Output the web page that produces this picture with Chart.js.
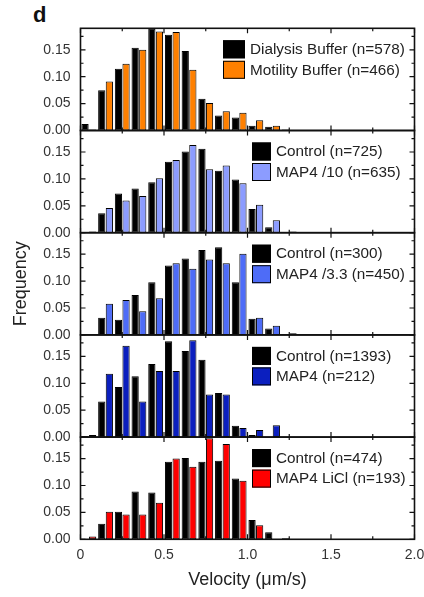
<!DOCTYPE html>
<html>
<head>
<meta charset="utf-8">
<script src="https://cdn.jsdelivr.net/npm/chart.js@4.4.1/dist/chart.umd.min.js"></script>
<style>
  html, body { margin: 0; padding: 0; background: #fff; }
  #fig { position: relative; width: 424px; height: 597px; overflow: hidden; }
  #fig canvas { position: absolute; left: 0; }
  #tag { position: absolute; left: 33px; top: 2px; font: bold 22px "Liberation Sans", Arial, sans-serif; color: #111; }
</style>
</head>
<body>
<div id="fig"><div id="tag">d</div></div>
<script>
// bins of 0.1 um/s, centres
const binCenters = [0.05, 0.15, 0.25, 0.35, 0.45, 0.55, 0.65, 0.75, 0.85, 0.95, 1.05, 1.15, 1.25];
const xTickValues = [0, 0.5, 1.0, 1.5, 2.0];
const yTickValues = [0, 0.05, 0.10, 0.15];

// panel 1
const dialysisBuffer = [0.012, 0.075, 0.115, 0.154, 0.189, 0.178, 0.148, 0.059, 0.028, 0.024, 0.009, 0.007, 0.002];
const motilityBuffer = [0.002, 0.091, 0.124, 0.150, 0.184, 0.183, 0.113, 0.051, 0.036, 0.033, 0.019, 0.009, 0];
// panel 2
const control725 = [0, 0.036, 0.073, 0.082, 0.094, 0.132, 0.151, 0.156, 0.115, 0.099, 0.044, 0.010, 0.001];
const map4Div10 = [0.002, 0.046, 0.060, 0.068, 0.101, 0.135, 0.163, 0.118, 0.125, 0.092, 0.052, 0.023, 0.002];
// panel 3
const control300 = [0.001, 0.032, 0.028, 0.074, 0.098, 0.129, 0.142, 0.158, 0.163, 0.098, 0.030, 0.012, 0];
const map4Div33 = [0, 0.058, 0.065, 0.044, 0.068, 0.133, 0.123, 0.140, 0.133, 0.151, 0.032, 0.017, 0.003];
// panel 4
const control1393 = [0.002, 0.066, 0.093, 0.113, 0.136, 0.178, 0.160, 0.144, 0.082, 0.021, 0.004, 0, 0];
const map4 = [0.004, 0.118, 0.170, 0.066, 0.123, 0.123, 0.180, 0.079, 0.079, 0.017, 0.013, 0.022, 0];
// panel 5
const control474 = [0, 0.029, 0.051, 0.089, 0.087, 0.144, 0.151, 0.144, 0.146, 0.113, 0.036, 0.013, 0.002];
const map4LiCl = [0.005, 0.051, 0.046, 0.046, 0.068, 0.150, 0.135, 0.188, 0.177, 0.109, 0.026, 0, 0];

const panels = [
  { labels: ['Dialysis Buffer (n=578)', 'Motility Buffer (n=466)'], series: [dialysisBuffer, motilityBuffer], color: '#ff8000', legendX: 223, boxW: 22 },
  { labels: ['Control (n=725)', 'MAP4 /10 (n=635)'], series: [control725, map4Div10], color: '#8c9cff', legendX: 252, boxW: 19 },
  { labels: ['Control (n=300)', 'MAP4 /3.3 (n=450)'], series: [control300, map4Div33], color: '#4e6cf7', legendX: 252, boxW: 19 },
  { labels: ['Control (n=1393)', 'MAP4 (n=212)'], series: [control1393, map4], color: '#0b1fbf', legendX: 252, boxW: 19 },
  { labels: ['Control (n=474)', 'MAP4 LiCl (n=193)'], series: [control474, map4LiCl], color: '#ff0000', legendX: 252, boxW: 19 }
];

const FONT = '"Liberation Sans", Arial, sans-serif';
const W = 424, H = 597;
const plotLeft = 80.5, plotRight = 414.5, plotTop = 28.3, panelH = 102.2;
const margin = 22; // canvas overhang above/below each panel so tick labels fit

// frame with inward ticks on all four sides
const framePlugin = {
  id: 'frame',
  afterDatasetsDraw(chart) {
    const {ctx, chartArea: a, scales} = chart;
    const xs = scales.x, ys = scales.y;
    ctx.save();
    ctx.strokeStyle = '#111';
    ctx.lineWidth = 1.2;
    ctx.beginPath();
    for (let v = 0; v <= 0.19; v += 0.025) {
      const y = ys.getPixelForValue(v);
      const len = Math.abs(v / 0.05 - Math.round(v / 0.05)) < 1e-6 ? 5 : 3;
      ctx.moveTo(a.left, y); ctx.lineTo(a.left + len, y);
      ctx.moveTo(a.right, y); ctx.lineTo(a.right - len, y);
    }
    for (let v = 0; v <= 2.0001; v += 0.25) {
      const x = xs.getPixelForValue(v);
      const len = Math.abs(v / 0.5 - Math.round(v / 0.5)) < 1e-6 ? 5 : 3;
      ctx.moveTo(x, a.top); ctx.lineTo(x, a.top + len);
      ctx.moveTo(x, a.bottom); ctx.lineTo(x, a.bottom - len);
    }
    ctx.stroke();
    ctx.lineWidth = 1.6;
    ctx.strokeRect(a.left, a.top, a.right - a.left, a.bottom - a.top);
    ctx.restore();
  }
};

// legend box in the upper right of each panel
const panelLegend = {
  id: 'panelLegend',
  afterDatasetsDraw(chart, args, opts) {
    const {ctx, chartArea: a} = chart;
    ctx.save();
    ctx.font = '15.3px ' + FONT;
    ctx.textBaseline = 'middle';
    chart.data.datasets.forEach((ds, i) => {
      const y = a.top + 12 + i * 20.5;
      ctx.fillStyle = ds.backgroundColor;
      ctx.fillRect(opts.x, y, opts.boxW, 18);
      ctx.strokeStyle = '#000';
      ctx.lineWidth = 1;
      ctx.strokeRect(opts.x + 0.5, y + 0.5, opts.boxW - 1, 17);
      ctx.fillStyle = '#222';
      ctx.fillText(ds.label, opts.x + opts.boxW + 5, y + 9.5);
    });
    ctx.restore();
  }
};

const fig = document.getElementById('fig');

panels.forEach((p, k) => {
  const last = k === panels.length - 1;
  const pTop = plotTop + k * panelH;
  const cTop = Math.max(0, Math.floor(pTop) - margin);
  const cH = last ? H - cTop : Math.ceil(pTop - cTop + panelH + margin);
  const padTop = pTop - cTop;
  const padBottom = last ? 0 : cH - padTop - panelH;
  const xAxisH = H - (pTop + panelH);

  const canvas = document.createElement('canvas');
  canvas.width = W;
  canvas.height = cH;
  canvas.style.top = cTop + 'px';
  fig.appendChild(canvas);

  new Chart(canvas, {
    type: 'bar',
    data: {
      labels: binCenters,
      datasets: p.series.map((vals, i) => ({
        label: p.labels[i],
        data: binCenters.map((c, j) => ({x: c, y: vals[j]})),
        backgroundColor: i === 0 ? '#000000' : p.color,
        borderColor: '#000',
        borderWidth: 1,
        borderSkipped: false
      }))
    },
    options: {
      responsive: false,
      animation: false,
      categoryPercentage: 0.91,
      barPercentage: 0.95,
      layout: { padding: { top: padTop, bottom: padBottom, left: 0, right: W - plotRight } },
      plugins: {
        legend: { display: false },
        tooltip: { enabled: false },
        panelLegend: { x: p.legendX, boxW: p.boxW }
      },
      scales: {
        x: {
          type: 'linear',
          min: 0, max: 2.0,
          offset: false,
          display: last,
          grid: { display: false, drawTicks: false, offset: false },
          border: { display: false },
          afterBuildTicks: s => { s.ticks = xTickValues.map(v => ({value: v})); },
          afterFit: s => {
            s.height = last ? xAxisH : 0;
            s.paddingLeft = 0;
            s.paddingRight = 0;
          },
          ticks: {
            padding: 7,
            color: '#333',
            font: { family: FONT, size: 14 },
            callback: v => v === 0 ? '0' : v.toFixed(1)
          },
          title: {
            display: true,
            text: 'Velocity (\u03bcm/s)',
            color: '#222',
            font: { family: FONT, size: 18 },
            padding: { top: 0, bottom: 6 }
          }
        },
        y: {
          min: 0, max: 0.19,
          grid: { display: false, drawTicks: false },
          border: { display: false },
          afterBuildTicks: s => { s.ticks = yTickValues.map(v => ({value: v})); },
          afterFit: s => { s.width = plotLeft; },
          ticks: {
            padding: 10,
            color: '#333',
            font: { family: FONT, size: 14 },
            callback: v => v.toFixed(2)
          },
          title: {
            display: k === 2,
            text: 'Frequency',
            color: '#222',
            font: { family: FONT, size: 18 },
            padding: { top: 10, bottom: 0 }
          }
        }
      }
    },
    plugins: [framePlugin, panelLegend]
  });
});
</script>
</body>
</html>
